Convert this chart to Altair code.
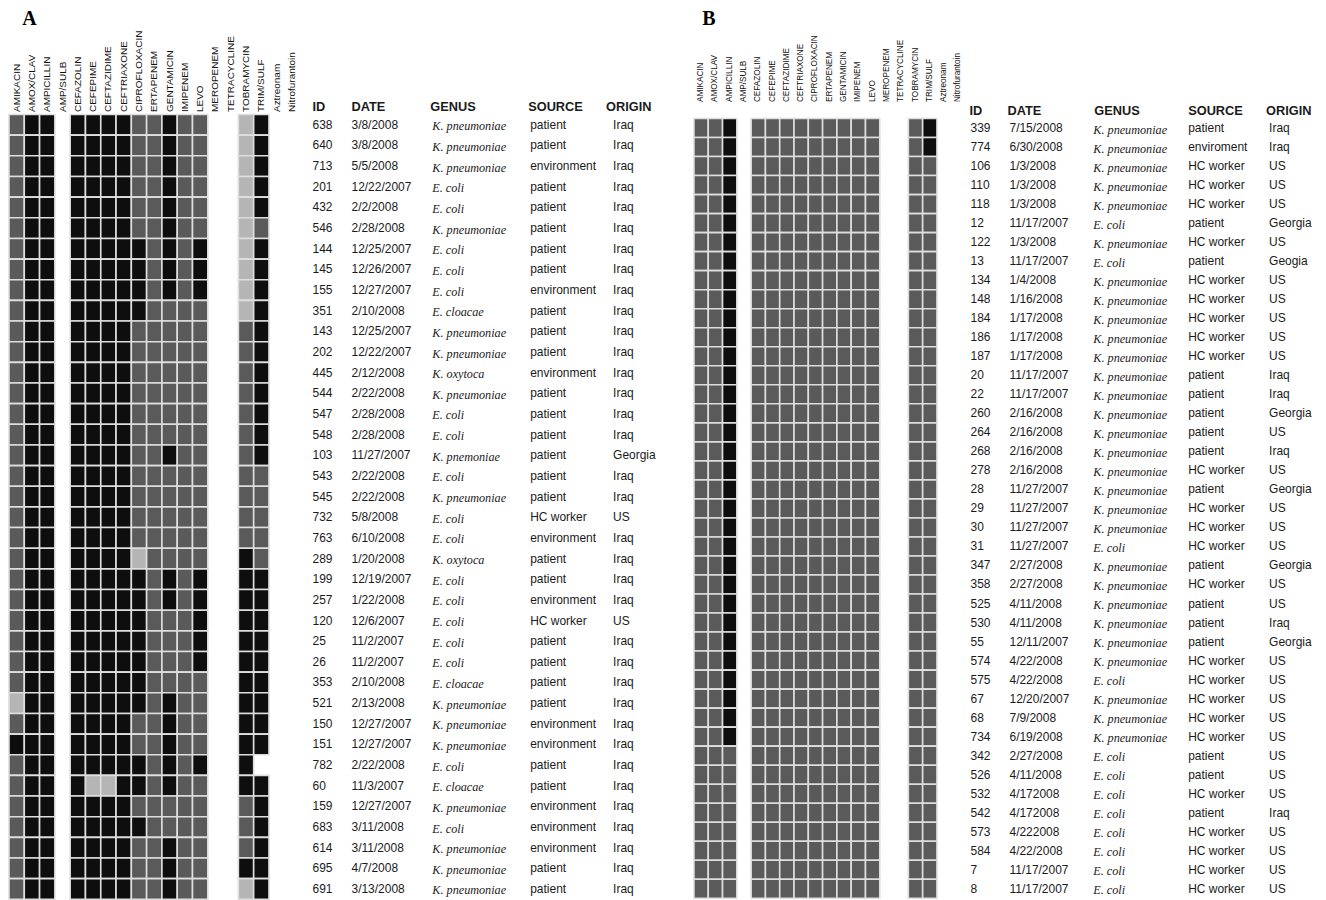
import altair as alt
import pandas as pd

# ---------------- data ----------------
drugs = ["AMIKACIN", "AMOX/CLAV", "AMPICILLIN", "AMP/SULB", "CEFAZOLIN", "CEFEPIME",
         "CEFTAZIDIME", "CEFTRIAXONE", "CIPROFLOXACIN", "ERTAPENEM", "GENTAMICIN",
         "IMIPENEM", "LEVO", "MEROPENEM", "TETRACYCLINE", "TOBRAMYCIN", "TRIM/SULF",
         "Aztreonam", "Nitrofurantoin"]

# one character per drug: R = black, S = dark gray, I = light gray, - = no cell
profiles_a = [
    "SRR-RRRRSSRSS--IR--", "SRR-RRRRSSRSS--IR--", "SRR-RRRRSSRSS--IR--",
    "SRR-RRRRSSRSS--IR--", "SRR-RRRRSSRSS--IR--", "SRR-RRRRSSRSS--IS--",
    "SRR-RRRRRSRSR--IR--", "SRR-RRRRRSRSR--IR--", "SRR-RRRRRSRSR--IR--",
    "SRR-RRRRRSSSS--IR--", "SRR-RRRRSSSSS--SR--", "SRR-RRRRSSSSS--SR--",
    "SRR-RRRRSSSSS--SR--", "SRR-RRRRSSSSS--SR--", "SRR-RRRRSSSSS--SR--",
    "SRR-RRRRSSSSS--SR--", "SRR-RRRRSSRSS--SR--", "SRR-RRRRSSSSS--SS--",
    "SRR-RRRRSSSSS--SS--", "SRR-RRRRSSSSS--SS--", "SRR-RRRRSSSSS--SS--",
    "SRR-RRRRISSSS--RS--", "SRR-RRRRRSRSR--RR--", "SRR-RRRRRSRSR--RR--",
    "SRR-RRRRRSSSR--RR--", "SRR-RRRRRSSSR--RR--", "SRR-RRRRRSSSR--RR--",
    "SRR-RRRRRSSSS--RR--", "IRR-RRRRRSRSS--RR--", "SRR-RRRRSSRSS--RR--",
    "RRR-RRRRSSRSS--RR--", "SRR-RRRRRSRSR--R---", "SRR-RIIRRSRSS--RR--",
    "SRR-RRRRSSSSS--SR--", "SRR-RRRRRSSSS--SR--", "SRR-RRRRSSRSS--SR--",
    "SRR-RRRRSSRSS--RR--", "SRR-RRRRSSRSS--IR--",
]
ids_a = [638, 640, 713, 201, 432, 546, 144, 145, 155, 351, 143, 202, 445, 544, 547, 548,
         103, 543, 545, 732, 763, 289, 199, 257, 120, 25, 26, 353, 521, 150, 151, 782,
         60, 159, 683, 614, 695, 691]
dates_a = ["3/8/2008", "3/8/2008", "5/5/2008", "12/22/2007", "2/2/2008", "2/28/2008",
           "12/25/2007", "12/26/2007", "12/27/2007", "2/10/2008", "12/25/2007",
           "12/22/2007", "2/12/2008", "2/22/2008", "2/28/2008", "2/28/2008", "11/27/2007",
           "2/22/2008", "2/22/2008", "5/8/2008", "6/10/2008", "1/20/2008", "12/19/2007",
           "1/22/2008", "12/6/2007", "11/2/2007", "11/2/2007", "2/10/2008", "2/13/2008",
           "12/27/2007", "12/27/2007", "2/22/2008", "11/3/2007", "12/27/2007",
           "3/11/2008", "3/11/2008", "4/7/2008", "3/13/2008"]
KP, EC = "K. pneumoniae", "E. coli"
genus_a = [KP, KP, KP, EC, EC, KP, EC, EC, EC, "E. cloacae", KP, KP, "K. oxytoca", KP,
           EC, EC, "K. pnemoniae", EC, KP, EC, EC, "K. oxytoca", EC, EC, EC, EC, EC,
           "E. cloacae", KP, KP, KP, EC, "E. cloacae", KP, EC, KP, KP, KP]
P, ENV, HC = "patient", "environment", "HC worker"
source_a = [P, P, ENV, P, P, P, P, P, ENV, P, P, P, ENV, P, P, P, P, P, P, HC, ENV, P, P,
            ENV, HC, P, P, P, P, ENV, ENV, P, P, ENV, ENV, ENV, P, P]
origin_a = ["Iraq"] * 16 + ["Georgia", "Iraq", "Iraq", "US", "Iraq", "Iraq", "Iraq",
                            "Iraq", "US"] + ["Iraq"] * 13

profiles_b = (["SSR-SSSSSSSSS--SR--"] * 2 + ["SSR-SSSSSSSSS--SS--"] * 31 +
              ["SSS-SSSSSSSSS--SS--"] * 8)
ids_b = [339, 774, 106, 110, 118, 12, 122, 13, 134, 148, 184, 186, 187, 20, 22, 260, 264,
         268, 278, 28, 29, 30, 31, 347, 358, 525, 530, 55, 574, 575, 67, 68, 734, 342, 526,
         532, 542, 573, 584, 7, 8]
dates_b = ["7/15/2008", "6/30/2008", "1/3/2008", "1/3/2008", "1/3/2008", "11/17/2007",
           "1/3/2008", "11/17/2007", "1/4/2008", "1/16/2008", "1/17/2008", "1/17/2008",
           "1/17/2008", "11/17/2007", "11/17/2007", "2/16/2008", "2/16/2008", "2/16/2008",
           "2/16/2008", "11/27/2007", "11/27/2007", "11/27/2007", "11/27/2007",
           "2/27/2008", "2/27/2008", "4/11/2008", "4/11/2008", "12/11/2007", "4/22/2008",
           "4/22/2008", "12/20/2007", "7/9/2008", "6/19/2008", "2/27/2008", "4/11/2008",
           "4/172008", "4/172008", "4/222008", "4/22/2008", "11/17/2007", "11/17/2007"]
genus_b = [KP, KP, KP, KP, KP, EC, KP, EC, KP, KP, KP, KP, KP, KP, KP, KP, KP, KP, KP, KP,
           KP, KP, EC, KP, KP, KP, KP, KP, KP, EC, KP, KP, KP, EC, EC, EC, EC, EC, EC, EC, EC]
source_b = [P, "enviroment", HC, HC, HC, P, HC, P, HC, HC, HC, HC, HC, P, P, P, P, P, HC,
            P, HC, HC, HC, P, HC, P, P, P, HC, HC, HC, HC, HC, P, P, HC, P, HC, HC, HC, HC]
origin_b = ["Iraq", "Iraq", "US", "US", "US", "Georgia", "US", "Geogia", "US", "US", "US",
            "US", "US", "Iraq", "Iraq", "Georgia", "US", "Iraq", "US", "Georgia", "US",
            "US", "US", "Georgia", "US", "US", "Iraq", "Georgia", "US", "US", "US", "US",
            "US", "US", "US", "US", "Iraq", "US", "US", "US", "US"]

columns = ["ID", "DATE", "GENUS", "SOURCE", "ORIGIN"]

# ---------------- styling / layout ----------------
CELL_COLORS = {"domain": ["R", "S", "I"], "range": ["#0e0e0e", "#5a5a5a", "#b5b5b5"]}
SANS = "Liberation Sans"
SERIF = "Liberation Serif"
TXT = "#1a1a1a"

layout_a = dict(label="A", width=672, height=786, rows_px=(0, 786), heat_w=291,
                label_size=10, label_pad=3, title_off=1, title_dx=14, hdr_y=-8,
                hdr_x=[304, 343, 422, 520, 598], val_x=[304, 343, 424, 522, 605])
layout_b = dict(label="B", width=625, height=786, rows_px=(4, 785), heat_w=272,
                label_size=8.2, label_pad=13, title_off=6, title_dx=9, hdr_y=-4,
                hdr_x=[276, 314, 401, 495, 573], val_x=[277, 316, 400, 495, 576])


def panel(ids, dates, genus, source, origin, profiles, L):
    n = len(ids)
    rows = list(range(n))
    recs = []
    for r, prof in enumerate(profiles):
        for d, c in zip(drugs, prof):
            if c != "-":
                recs.append({"row": r, "drug": d, "res": c})
    hdf = pd.DataFrame(recs)
    tdf = pd.DataFrame({"row": rows, "ID": [str(i) for i in ids], "DATE": dates,
                        "GENUS": genus, "SOURCE": source, "ORIGIN": origin})

    y_enc = alt.Y("row:O", axis=None,
                  scale=alt.Scale(domain=rows, range=list(L["rows_px"]),
                                  paddingInner=0, paddingOuter=0))

    heat = alt.Chart(hdf).mark_rect(stroke="#dedede", strokeWidth=1.6).encode(
        x=alt.X("drug:N",
                scale=alt.Scale(domain=drugs, range=[0, L["heat_w"]],
                                paddingInner=0, paddingOuter=0),
                axis=alt.Axis(orient="top", title=None, labelAngle=270,
                              labelAlign="left", labelBaseline="middle",
                              labelFont=SANS, labelFontSize=L["label_size"],
                              labelColor="#111111", labelPadding=L["label_pad"],
                              ticks=False, domain=False, grid=False,
                              labelOverlap=False)),
        y=y_enc,
        color=alt.Color("res:N", scale=alt.Scale(**CELL_COLORS), legend=None),
    )

    layers = [heat]
    for i, col in enumerate(columns):
        italic = col == "GENUS"
        layers.append(
            alt.Chart(tdf).mark_text(
                align="left", baseline="middle",
                font=SERIF if italic else SANS,
                fontStyle="italic" if italic else "normal",
                fontSize=12.2 if italic else 12, color=TXT,
                dy=1.5 if italic else 0,
            ).encode(x=alt.value(L["val_x"][i]), y=y_enc, text=f"{col}:N")
        )
        layers.append(
            alt.Chart(pd.DataFrame({"h": [col]})).mark_text(
                align="left", baseline="middle", font=SANS, fontWeight="bold",
                fontSize=12.8, color=TXT,
            ).encode(x=alt.value(L["hdr_x"][i]), y=alt.value(L["hdr_y"]), text="h:N")
        )

    return alt.layer(*layers).properties(
        width=L["width"], height=L["height"],
        title=alt.TitleParams(text=L["label"], anchor="start", dx=L["title_dx"],
                              font=SERIF, fontSize=20, fontWeight="bold",
                              color="black", offset=L["title_off"]),
    )


pa = panel(ids_a, dates_a, genus_a, source_a, origin_a, profiles_a, layout_a)
pb = panel(ids_b, dates_b, genus_b, source_b, origin_b, profiles_b, layout_b)

chart = alt.hconcat(pa, pb, spacing=13).properties(
    padding={"left": 0, "top": 0, "right": 0, "bottom": 0},
    background="white",
).configure_view(stroke="transparent", strokeWidth=0)

chart.save("out.html", embed_options={"renderer": "svg", "actions": False})
